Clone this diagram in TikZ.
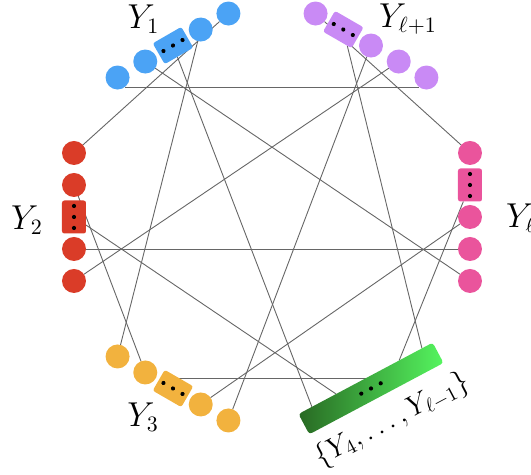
\documentclass[tikz,border=0pt]{standalone}
\usepackage{amsmath,amssymb}
\usepackage{tikz}
\usetikzlibrary{calc}
\definecolor{y_blau}{RGB}{75,163,245}
\definecolor{y_lila}{RGB}{201,138,245}
\definecolor{y_rot}{RGB}{218,60,40}
\definecolor{y_pink}{RGB}{234,84,156}
\definecolor{y_orange}{RGB}{242,178,62}
\definecolor{g_dunkel}{RGB}{40,105,35}
\definecolor{g_hell}{RGB}{85,245,95}
\pgfdeclarelayer{hinten}
\pgfsetlayers{hinten,main}
\tikzset{
  vkreis/.style={circle, minimum size=12pt, inner sep=0pt, outer sep=0pt},
  vkasten/.style={rectangle, rounded corners=1.2pt, minimum width=16.5pt,
                  minimum height=12pt, inner sep=0pt, outer sep=0pt},
  gbalken/.style={rectangle, rounded corners=1.5pt, minimum width=76pt,
                  minimum height=11.5pt, inner sep=0pt, outer sep=0pt,
                  left color=g_dunkel, right color=g_hell},
  kante/.style={black!60, line width=0.45pt},
  lab/.style={font=\fontsize{16}{19}\selectfont}
}
\newcommand{\vgruppe}[5]{% #1 = Winkel, #2 = Farbe, #3 = Name, #4 = Lage des Kastens, #5 = Lagen der Kreise
  \begin{scope}[shift={(#1:198)}, rotate=#1-90]
    \foreach \p [count=\n] in {#5}
      \node[vkreis, fill=#2] (#3\n) at (\p,0) {};
    \node[vkasten, fill=#2, rotate=#1-90] (#3K) at (#4,0) {};
    \foreach \d in {-11,0,11} \fill ({#4+(\d)},0) circle (2.1);
  \end{scope}
}

\begin{document}
\begin{tikzpicture}[x=0.5pt, y=0.5pt]
  \useasboundingbox (-272,-258) rectangle (259,217);
  \vgruppe{120}{y_blau}{yEins}{0}{-64,-32,32,64}
  \vgruppe{60}{y_lila}{yLp}{-32}{-64,0,32,64}
  \vgruppe{0}{y_pink}{yL}{-32}{-64,0,32,64}
  \vgruppe{180}{y_rot}{yZwei}{0}{-64,-32,32,64}
  \vgruppe{240}{y_orange}{yDrei}{0}{-64,-32,32,64}
  % Balken fuer Y_4 ... Y_{l-1}
  \node[gbalken, rotate=28] (yRest) at (300:198) {};
  \foreach \d in {-11,0,11} \fill ($(yRest)+(28:{\d})$) circle (2.1);
  \coordinate (gA) at ($(yRest.north west)!0.10!(yRest.north east)$);
  \coordinate (gB) at ($(yRest.north west)!0.28!(yRest.north east)$);
  \coordinate (gC) at ($(yRest.north west)!0.53!(yRest.north east)$);
  \coordinate (gD) at ($(yRest.north west)!0.75!(yRest.north east)$);
  \coordinate (gE) at ($(yRest.north west)!0.92!(yRest.north east)$);
  \begin{pgfonlayer}{hinten}
    \draw[kante] (yEins1.-52) -- (yLp4.-128);
    \draw[kante] (yEins4) -- (yZwei4);
    \draw[kante] (yEins3) -- (yDrei4);
    \draw[kante] (yEins2) -- (yL4);
    \draw[kante] (yEinsK) -- (gA);
    \draw[kante] (yLp1) -- (yL1);
    \draw[kante] (yLpK) -- (gE);
    \draw[kante] (yLp2) -- (yDrei1);
    \draw[kante] (yLp3) -- (yZwei1);
    \draw[kante] (yLK) -- (gD);
    \draw[kante] (yL2) -- (yDrei2);
    \draw[kante] (yL3) -- (yZwei2);
    \draw[kante] (yZwei3) -- (yDrei3);
    \draw[kante] (yZweiK) -- (gB);
    \draw[kante] (yDreiK.south) -- (yDreiK.south -| gC);
  \end{pgfonlayer}
  % Beschriftungen
  \node[lab] (lEins) at (123:236) {$Y_1$};
  \node[lab] (lLp) at (55.5:240) {$Y_{\ell+1}$};
  \node[lab] (lZwei) at (180.7:245) {$Y_2$};
  \node[lab] (lL) at (-0.2:249) {$Y_\ell$};
  \node[lab] (lDrei) at (237.2:238) {$Y_3$};
  \node[lab, font=\fontsize{14}{17}\selectfont, rotate=28] (lRest) at (300.6:236) {$\{Y_4,\ldots,Y_{\ell-1}\}$};
\end{tikzpicture}
\end{document}
